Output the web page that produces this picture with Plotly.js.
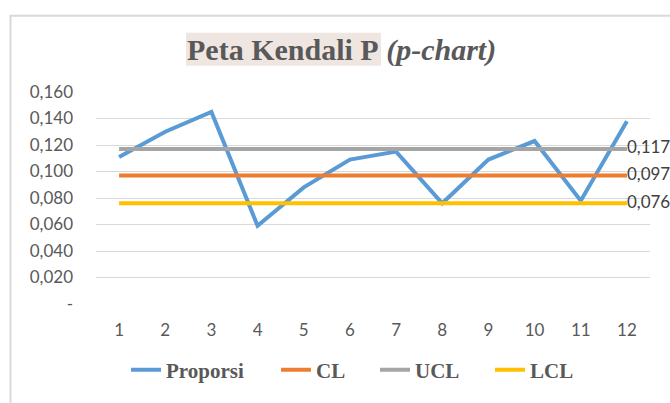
<!DOCTYPE html>
<html>
<head>
<meta charset="utf-8">
<script src="https://cdn.plot.ly/plotly-3.0.1.min.js"></script>
<style>html,body{margin:0;padding:0;background:#fff;}#chart{width:670px;height:403px;}</style>
</head>
<body>
<div id="chart"></div>
<script>
const samples = [1,2,3,4,5,6,7,8,9,10,11,12];
const proporsi = [0.111,0.130,0.145,0.059,0.088,0.109,0.115,0.076,0.109,0.123,0.078,0.138];
const clValue = 0.097;
const uclValue = 0.117;
const lclValue = 0.076;
const yTickVals = [0,0.02,0.04,0.06,0.08,0.10,0.12,0.14,0.16];
const yTickText = ['-','0,020','0,040','0,060','0,080','0,100','0,120','0,140','0,160'];
const fmt = v => v.toFixed(3).replace('.', ',');

const W = 670, H = 403, L = 96, R = 20, T = 92, B = 93;
const pw = W - L - R, ph = H - T - B;
const px = x => (x - L) / pw;
const py = y => (H - B - y) / ph;

function flat(v){ return samples.map(()=>v); }
function lastLabel(v){ return samples.map((s,i)=> i===samples.length-1 ? fmt(v) : ''); }

const SANS = 'Lato, Open Sans, sans-serif';
const SERIF = 'Liberation Serif, DejaVu Serif, serif';
const labelFont = {family:SANS, size:17, color:'#404040'};
const legFont = {family:SERIF, size:21, color:'#595959', weight:'bold'};
function leg(xpx){ return {orientation:'h', x:px(xpx), xanchor:'left', y:py(378), yanchor:'middle', font:legFont, bgcolor:'rgba(0,0,0,0)', borderwidth:0}; }

const traces = [
  {x:samples, y:proporsi, name:'Proporsi', mode:'lines', line:{color:'#5B9BD5', width:4}, legend:'legend'},
  {x:samples, y:flat(clValue), name:'CL', mode:'lines+text', text:lastLabel(clValue), textposition:'middle right', textfont:labelFont, line:{color:'#ED7D31', width:4}, cliponaxis:false, legend:'legend2'},
  {x:samples, y:flat(uclValue), name:'UCL', mode:'lines+text', text:lastLabel(uclValue), textposition:'middle right', textfont:labelFont, line:{color:'#A5A5A5', width:4}, cliponaxis:false, legend:'legend3'},
  {x:samples, y:flat(lclValue), name:'LCL', mode:'lines+text', text:lastLabel(lclValue), textposition:'middle right', textfont:labelFont, line:{color:'#FFC000', width:4}, cliponaxis:false, legend:'legend4'}
];
const layout = {
  width:W, height:H,
  margin:{l:L, r:R, t:T, b:B, pad:0},
  paper_bgcolor:'#fff', plot_bgcolor:'#fff',
  showlegend:true,
  font:{family:SANS, color:'#595959'},
  title:{text:'<b>Peta Kendali P</b> <b><i>(p-chart)</i></b>', font:{family:SERIF, size:30, color:'#595959'}, xref:'paper', x:px(187), xanchor:'left', yref:'container', y:1-49/H, yanchor:'middle', pad:{t:0,b:0,l:0,r:0}},
  xaxis:{range:[0.5,12.5], tickvals:samples, ticktext:samples.map(String), showgrid:false, zeroline:false, showline:false, ticks:'', tickfont:{size:17, color:'#595959'}, ticklabelstandoff:14, fixedrange:true},
  yaxis:{range:[0,0.16], tickvals:yTickVals, ticktext:yTickText, showgrid:true, gridcolor:'#D9D9D9', gridwidth:1, zeroline:false, showline:false, ticks:'', tickfont:{size:17, color:'#595959'}, ticklabelstandoff:22, fixedrange:true},
  legend:leg(126), legend2:leg(276), legend3:leg(375), legend4:leg(490),
  shapes:[
    {type:'rect', xref:'paper', yref:'paper', x0:px(10.5), x1:px(690), y0:py(420), y1:py(13.5), line:{color:'#D9D9D9', width:2}, fillcolor:'rgba(0,0,0,0)', layer:'below'},
    {type:'rect', xref:'paper', yref:'paper', x0:px(186), x1:px(381), y0:py(65), y1:py(31), line:{width:0}, fillcolor:'#EFE6E1', layer:'below'}
  ]
};
Plotly.newPlot('chart', traces, layout, {displayModeBar:false, staticPlot:true});
</script>
</body>
</html>
